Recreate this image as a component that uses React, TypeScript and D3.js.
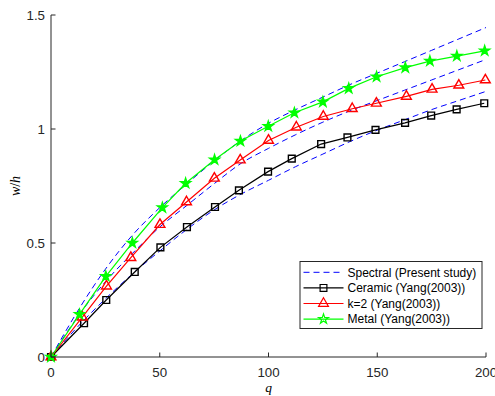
import React from "react";
import { scaleLinear, line, curveMonotoneX, symbol, symbolSquare, symbolTriangle, symbolStar } from "d3";

// spectral (present study) curves
const spectralQ = [0, 12.5, 25, 37.5, 50, 62.5, 75, 87.5, 100, 112.5, 125, 137.5, 150, 162.5, 175, 187.5, 200];
const spectralMetal = [0, 0.205, 0.385, 0.535, 0.655, 0.76, 0.86, 0.95, 1.025, 1.085, 1.14, 1.195, 1.245, 1.295, 1.345, 1.395, 1.445];
const spectralK2 = [0, 0.18, 0.33, 0.455, 0.57, 0.665, 0.76, 0.85, 0.915, 0.975, 1.03, 1.08, 1.125, 1.17, 1.215, 1.26, 1.305];
const spectralCeramic = [0, 0.135, 0.255, 0.365, 0.465, 0.56, 0.645, 0.715, 0.775, 0.835, 0.89, 0.945, 0.995, 1.04, 1.085, 1.125, 1.165];

// Yang (2003)
const ceramicQ = [0, 15.2, 25.4, 38.5, 50.3, 62.5, 75.4, 86.4, 99.8, 110.7, 124.2, 136.3, 149.2, 162.8, 174.8, 186.5, 199.2];
const ceramicW = [0, 0.148, 0.25, 0.373, 0.481, 0.57, 0.658, 0.731, 0.813, 0.87, 0.934, 0.963, 0.996, 1.027, 1.059, 1.086, 1.113];
const k2Q = [0, 14.4, 25.5, 36.7, 50.1, 62.3, 75.1, 87.0, 100.0, 112.8, 125.2, 138.5, 149.6, 163.4, 175.2, 187.5, 199.7];
const k2W = [0, 0.175, 0.311, 0.436, 0.581, 0.68, 0.784, 0.864, 0.95, 1.008, 1.055, 1.089, 1.113, 1.143, 1.174, 1.192, 1.215];
const metalQ = [0, 13.1, 25.2, 37.4, 51.2, 61.9, 75.2, 87.1, 99.9, 111.9, 125.0, 136.9, 149.7, 162.9, 174.2, 186.6, 199.4];
const metalW = [0, 0.187, 0.354, 0.5, 0.655, 0.762, 0.865, 0.947, 1.012, 1.071, 1.119, 1.178, 1.229, 1.269, 1.298, 1.32, 1.343];

const xTicks = [0, 50, 100, 150, 200];
const yTicks = [0, 0.5, 1, 1.5];
const legendLabels = ["Spectral (Present study)", "Ceramic (Yang(2003))", "k=2 (Yang(2003))", "Metal (Yang(2003))"];

const W = 495, H = 396;
const left = 51, right = 486, top = 15, bottom = 357;
const axisColor = "#262626";
const font = "'Liberation Sans', Arial, Helvetica, sans-serif";
const serif = "'Liberation Serif', 'DejaVu Serif', serif";

const x = scaleLinear().domain([0, 200]).range([left, right]);
const y = scaleLinear().domain([0, 1.5]).range([bottom, top]);

type Pt = [number, number];
const zip = (a: number[], b: number[]): Pt[] => a.map((v, i) => [v, b[i]]);

const straight = line<Pt>().x(d => x(d[0])).y(d => y(d[1]));
const smooth = line<Pt>().x(d => x(d[0])).y(d => y(d[1])).curve(curveMonotoneX);

const sq = symbol().type(symbolSquare).size(46)()!;
const tri = symbol().type(symbolTriangle).size(42)()!;
const star = symbol().type(symbolStar).size(30)()!;

const series = [
  { pts: zip(ceramicQ, ceramicW), color: "#000000", marker: sq, fill: "none" },
  { pts: zip(k2Q, k2W), color: "#ff0000", marker: tri, fill: "none" },
  { pts: zip(metalQ, metalW), color: "#00ff00", marker: star, fill: "#00ff00" },
];
const spectral = [spectralCeramic, spectralK2, spectralMetal].map(v => zip(spectralQ, v));

export default function App() {
  const lgX = 300, lgY = 261.5, lgW = 182, lgH = 67;
  return (
    <svg width={W} height={H} style={{ position: "absolute", left: 0, top: 0, background: "#fff" }}>
      <rect width={W} height={H} fill="#fff" />
      {/* spectral dashed curves */}
      {spectral.map((p, i) => (
        <path key={"s" + i} d={smooth(p)!} fill="none" stroke="#0000ff" strokeWidth={1} strokeDasharray="6,4" />
      ))}
      {/* reference series */}
      {series.map((s, i) => (
        <g key={"r" + i}>
          <path d={straight(s.pts)!} fill="none" stroke={s.color} strokeWidth={1.2} />
          {s.pts.map((d, j) => (
            <path key={j} d={s.marker} transform={`translate(${x(d[0])},${y(d[1])})`}
              fill={s.fill} stroke={s.color} strokeWidth={1.4} strokeLinejoin="miter" />
          ))}
        </g>
      ))}
      {/* axes */}
      <g stroke={axisColor} strokeWidth={1} fill="none">
        <line x1={left} x2={left} y1={top} y2={bottom + 0.5} />
        <line x1={left} x2={right} y1={bottom} y2={bottom} />
        {xTicks.map(t => <line key={"xt" + t} x1={x(t)} x2={x(t)} y1={bottom} y2={bottom - 4.5} />)}
        {yTicks.map(t => <line key={"yt" + t} x1={left} x2={left + 4.5} y1={y(t)} y2={y(t)} />)}
      </g>
      <g fill={axisColor} fontFamily={font} fontSize={13.3}>
        {xTicks.map(t => <text key={"xl" + t} x={x(t)} y={bottom + 20} textAnchor="middle">{t}</text>)}
        {yTicks.map(t => <text key={"yl" + t} x={left - 6} y={y(t) + 4.6} textAnchor="end">{t}</text>)}
      </g>
      <text x={(left + right) / 2} y={391.5} textAnchor="middle" fontFamily={serif}
        fontStyle="italic" fontSize={13.5} fill="#000">q</text>
      <text transform={`translate(20,${(top + bottom) / 2}) rotate(-90)`} textAnchor="middle"
        fontFamily={serif} fontSize={14} fill="#000">
        <tspan fontStyle="italic">w</tspan><tspan>/</tspan><tspan fontStyle="italic">h</tspan>
      </text>
      {/* legend */}
      <rect x={lgX} y={lgY} width={lgW} height={lgH} fill="#fff" stroke={axisColor} strokeWidth={1} />
      {legendLabels.map((lab, i) => {
        const cy = 272.3 + i * 15.6;
        const col = i === 0 ? "#0000ff" : series[i - 1].color;
        return (
          <g key={"lg" + i}>
            <line x1={303.5} x2={343.5} y1={cy} y2={cy} stroke={col} strokeWidth={i === 0 ? 1 : 1.2}
              strokeDasharray={i === 0 ? "6,4" : undefined} />
            {i > 0 && (
              <path d={series[i - 1].marker} transform={`translate(323.5,${cy})`} fill="none"
                stroke={col} strokeWidth={1.2} />
            )}
            <text x={347.5} y={cy + 4.2} fontFamily={font} fontSize={12} fill="#000">{lab}</text>
          </g>
        );
      })}
    </svg>
  );
}
